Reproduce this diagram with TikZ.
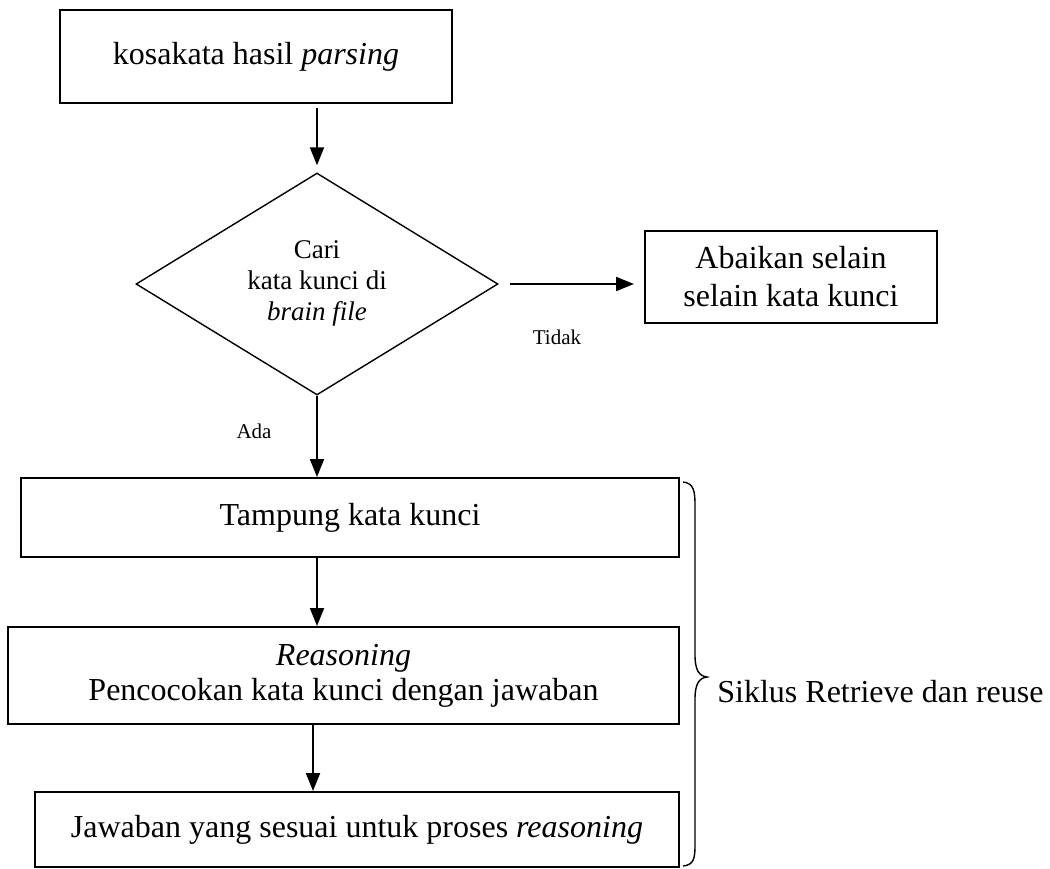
\documentclass[tikz,border=0pt]{standalone}
\usepackage{fontspec}
\setmainfont{Liberation Serif}
\usetikzlibrary{shapes.geometric,arrows.meta}
\begin{document}
\begin{tikzpicture}[x=0.5pt,y=-0.5pt,
  box/.style={draw,line width=1pt,inner sep=0pt,align=center,font=\fontsize{16}{18.5}\selectfont},
  dec/.style={draw,diamond,line width=0.7pt,inner sep=0pt,align=center,font=\fontsize{13.5}{15.5}\selectfont,minimum width=181pt,minimum height=111pt},
  arr/.style={line width=1pt,-{Triangle[length=9pt,width=7pt]}},
  lbl/.style={font=\fontsize{10.5}{12}\selectfont,inner sep=0pt},
  bracestyle/.style={line width=0.7pt}]
\useasboundingbox (0,0) rectangle (1050,868);
\node[box,minimum width=196pt,minimum height=46.5pt] (b1) at (256,56.5) {\raisebox{-4pt}{kosakata hasil \textit{parsing}}};
\node[dec] (dia) at (317,284) {\raisebox{-3pt}[0pt][0pt]{\begin{tabular}{@{}c@{}}Cari\\kata kunci di\\\textit{brain file}\end{tabular}}};
\node[box,font=\fontsize{16}{19}\selectfont,minimum width=146pt,minimum height=46pt] (ab) at (791,277) {Abaikan selain\\selain kata kunci};
\node[box,minimum width=329pt,minimum height=39.5pt] (tp) at (350,517.5) {Tampung kata kunci};
\node[box,font=\fontsize{16}{17.5}\selectfont,minimum width=335.5pt,minimum height=48.5pt] (rs) at (343.5,675.5) {\textit{Reasoning}\\Pencocokan kata kunci dengan jawaban};
\node[box,minimum width=322pt,minimum height=37.5pt] (jw) at (357,829.5) {\raisebox{3.5pt}{Jawaban yang sesuai untuk proses \textit{reasoning}}};
\draw[arr,shorten <=2pt,shorten >=3.5pt] (b1.south -| dia.north) -- (dia.north);
\draw[arr,shorten <=5.5pt,shorten >=5pt] (dia.east) -- (ab.west |- dia.east);
\draw[arr] (dia.south) -- (tp.north -| dia.south);
\draw[arr] (tp.south -| dia.south) -- (rs.north -| dia.south);
\draw[arr,transform canvas={xshift=-2pt}] (rs.south -| dia.south) -- (jw.north -| dia.south);
\node[lbl] (tidak) at (557,337) {Tidak};
\node[lbl] (ada) at (254,431) {Ada};
\draw[bracestyle] (683,482) .. controls (694,483) and (695,492) .. (695,505) -- (695,655) .. controls (695,670) and (699,676) .. (707,677) .. controls (699,678) and (695,684) .. (695,699) -- (695,845) .. controls (695,858) and (694,865) .. (683,866);
\node[anchor=west,font=\fontsize{16}{18}\selectfont,inner sep=0pt] (sik) at (717,692) {Siklus Retrieve dan reuse};
\end{tikzpicture}
\end{document}
